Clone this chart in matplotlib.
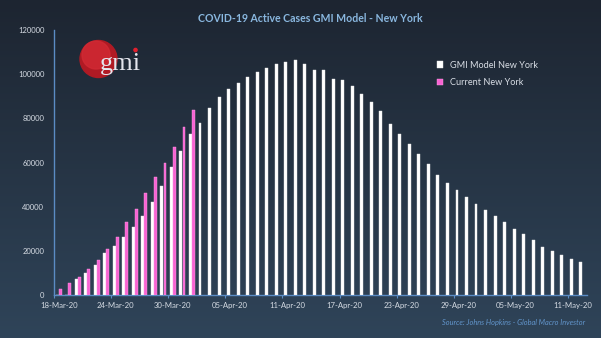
import numpy as np
import matplotlib
matplotlib.use("Agg")
import matplotlib.pyplot as plt
from matplotlib.patches import Circle
import pandas as pd

# ---- data ----
dates = pd.date_range("2020-03-18", "2020-05-12", freq="D")
categories = [d.strftime("%d-%b-%y") for d in dates]

gmi_model = [0, 0, 7200, 9800, 13400, 18900, 22400, 26100, 30600, 35800,
             42100, 49200, 58100, 65000, 72900, 78100, 84700, 89600, 93200, 95800,
             98500, 101200, 103000, 104600, 105600, 106300, 104400, 101800, 102100, 97600,
             97300, 94600, 91000, 87300, 83200, 77300, 72700, 68500, 63700, 59200,
             54300, 50500, 47500, 44600, 41000, 38300, 35700, 32900, 30100, 27400,
             24700, 21900, 20000, 18200, 16300, 14800]
current = [2600, 5300, 8300, 11800, 15800, 20800, 26400, 33000, 38900, 46200,
           53400, 59600, 67100, 75900, 83700]

yticks = [0, 20000, 40000, 60000, 80000, 100000, 120000]
label_every = 6

title = "COVID-19 Active Cases GMI Model - New York"
series_names = ["GMI Model New York", "Current New York"]
source = "Source: Johns Hopkins - Global Macro Investor"

# ---- style ----
W, H = 601, 338
fig = plt.figure(figsize=(W / 100, H / 100), dpi=100)

# gradient background
bg = fig.add_axes([0, 0, 1, 1], zorder=-10)
top = np.array([0x1d, 0x25, 0x31]) / 255
bot = np.array([0x2f, 0x44, 0x59]) / 255
t = np.linspace(0, 1, 256)[:, None]
grad = top[None, :] * (1 - t) + bot[None, :] * t
bg.imshow(grad[:, None, :].repeat(2, axis=1), aspect="auto", extent=[0, 1, 0, 1])
bg.set_axis_off()

ax = fig.add_axes([54 / W, (H - 295) / H, 533 / W, 265 / H])
ax.set_facecolor("none")

x = np.arange(len(categories))
bw = 0.31
off = 0.16
ax.bar(x - off, gmi_model, width=bw, color="#ffffff", edgecolor="#e6e6e6",
       linewidth=0.3, label=series_names[0], zorder=3)
xc = np.arange(len(current))
ax.bar(xc + off, current, width=bw, color="#f763d2", edgecolor="#ff9be6",
       linewidth=0.3, label=series_names[1], zorder=3)

ax.set_xlim(-0.5, len(categories) - 0.5)
ax.set_ylim(0, 120000)
ax.set_yticks(yticks)
ax.set_yticklabels([str(v) for v in yticks])

lab_idx = list(range(0, len(categories), label_every))
ax.set_xticks(lab_idx)
ax.set_xticklabels([categories[i] for i in lab_idx])
ax.set_xticks([i - 0.5 for i in lab_idx], minor=True)
ax.tick_params(axis="x", which="major", length=0, pad=5, labelsize=5.6,
               labelcolor="#d5dbe3")
ax.tick_params(axis="x", which="minor", length=2.5, color="#5b8cc4", width=0.8)
ax.tick_params(axis="y", length=0, pad=7, labelsize=5.5, labelcolor="#d5dbe3")
for lbl in ax.get_xticklabels() + ax.get_yticklabels():
    lbl.set_family(["Lato", "DejaVu Sans"])

for s in ["top", "right"]:
    ax.spines[s].set_visible(False)
for s in ["left", "bottom"]:
    ax.spines[s].set_color("#5b8cc4")
    ax.spines[s].set_linewidth(1.0)

fig.text(310 / W, 1 - 18 / H, title, ha="center", va="center", color="#8ab8e0",
         fontsize=7.6, fontweight="bold", family=["Lato", "DejaVu Sans"])

leg = ax.legend(loc="upper left", bbox_to_anchor=(379 / 533, (295 - 57) / 265),
                frameon=False, handlelength=0.7, handleheight=0.7,
                handletextpad=0.7, labelspacing=0.95, borderaxespad=0,
                prop={"family": ["Lato", "DejaVu Sans"], "size": 6.6})
for txt in leg.get_texts():
    txt.set_color("#d8dde5")

fig.text(585 / W, 1 - 322 / H, source, ha="right", va="center", color="#6296cc",
         fontsize=5.3, style="italic", family=["Lato", "DejaVu Sans"])

# logo
logo = fig.add_axes([0, 0, 1, 1], zorder=5)
logo.set_xlim(0, W)
logo.set_ylim(H, 0)
logo.set_axis_off()
logo.patch.set_alpha(0)
logo.add_patch(Circle((98.5, 59), 18.5, color="#b01a24"))
logo.add_patch(Circle((96, 55), 14, color="#d22a34", alpha=0.8))
logo.text(120, 70, "gmi", ha="center", va="baseline", color="#e4e6ee",
          fontsize=19, family="Liberation Serif")
logo.add_patch(Circle((135.5, 50), 1.6, color="#e0202e"))

fig.savefig("out.png", dpi=100)
